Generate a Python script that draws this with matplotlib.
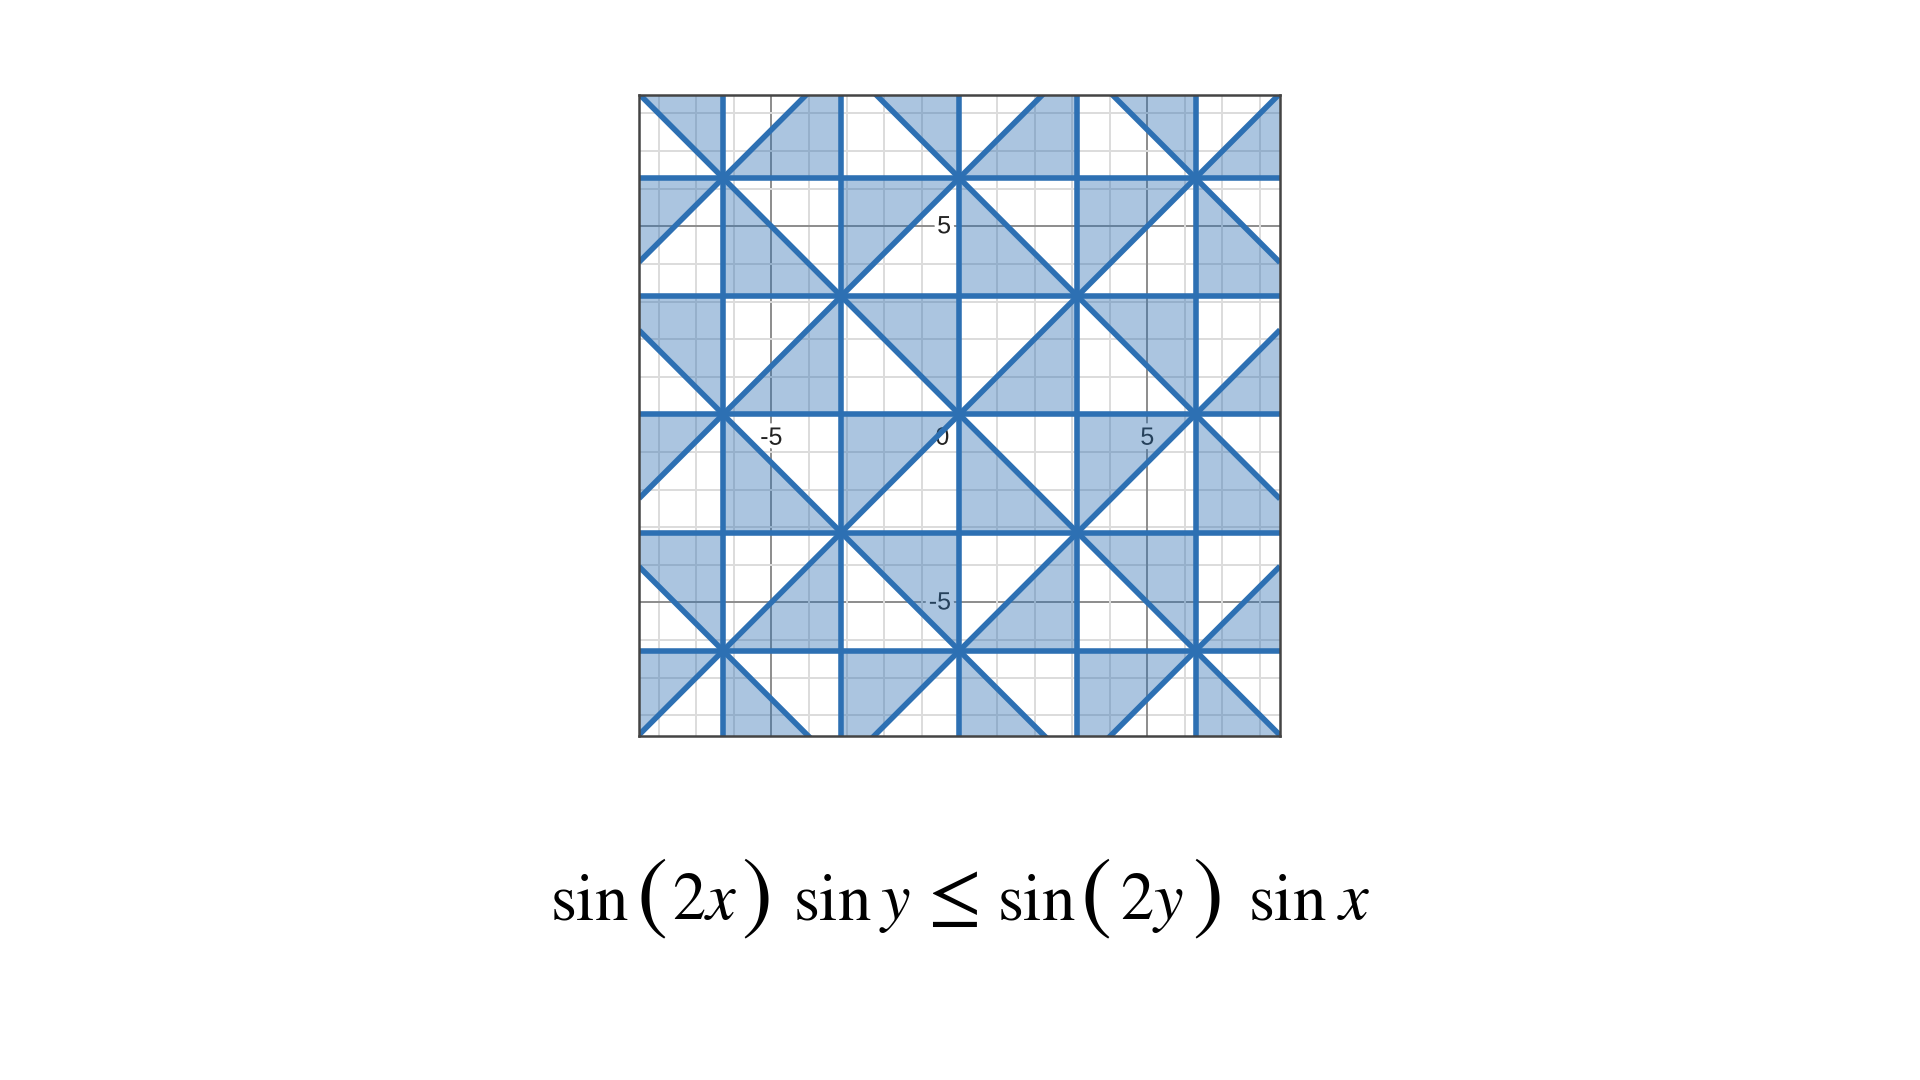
import numpy as np
import matplotlib
matplotlib.use("Agg")
import matplotlib.pyplot as plt
import matplotlib.patheffects as pe

# --------------------------------------------------------------
# data: inequality sin(2x) sin y <= sin(2y) sin x
# --------------------------------------------------------------
x_range = [-8.52, 8.53]
y_range = [-8.55, 8.49]
# boundaries: x = k*pi, y = k*pi, y = +-x + 2k*pi
axis_multiples = [-2, -1, 0, 1, 2]
diag_offsets = [-4, -2, 0, 2, 4]  # in units of pi
tick_values = [-5, 0, 5]
minor_step = 1

# equation pieces and their left edge (px) -- parens / relation drawn bigger
eq_pieces = [r"$\sin$", "(", r"$2x$", ")", r"$\sin$", r"$y$", r"$\leq$",
             r"$\sin$", "(", r"$2y$", ")", r"$\sin$", r"$x$"]
eq_left_px = [550, 636, 672, 741, 793, 879, 916, 997, 1080, 1120, 1192, 1248, 1337]

fill_color = "#2d70b3"
line_color = "#2d70b3"

plt.rcParams["mathtext.fontset"] = "stix"

fig = plt.figure(figsize=(19.2, 10.8), dpi=100)
ax = fig.add_axes([639 / 1920, 1 - 736 / 1080, 641 / 1920, 641 / 1080])
ax.set_xlim(*x_range)
ax.set_ylim(*y_range)

# grid: minor every unit, major every 5
for v in np.arange(-8, 9, minor_step):
    major = (v % 5 == 0)
    col = "#8c8c8c" if major else "#dcdcdc"
    ax.axvline(v, color=col, lw=1.4, zorder=0)
    ax.axhline(v, color=col, lw=1.4, zorder=0)

# tick labels (Desmos style, with white halo)
halo = [pe.withStroke(linewidth=6, foreground="white")]
lab_kw = dict(fontsize=18, family="Liberation Sans", color="#222222",
              path_effects=halo, zorder=1)
for v in tick_values:
    if v == 0:
        ax.text(-0.45, -0.62, "0", ha="center", va="center", **lab_kw)
    else:
        ax.text(v, -0.62, str(v), ha="center", va="center", **lab_kw)
        ax.text(-0.22, v, str(v), ha="right", va="center", **lab_kw)

# shaded region
gx = np.linspace(x_range[0], x_range[1], 1600)
gy = np.linspace(y_range[0], y_range[1], 1600)
X, Y = np.meshgrid(gx, gy)
F = np.sin(2 * X) * np.sin(Y) - np.sin(2 * Y) * np.sin(X)
ax.contourf(X, Y, F, levels=[-100, 0], colors=[fill_color], alpha=0.4,
            antialiased=True, zorder=2)

# boundary lines
lw_b = 4.0
for k in axis_multiples:
    ax.axvline(k * np.pi, color=line_color, lw=lw_b, zorder=3)
    ax.axhline(k * np.pi, color=line_color, lw=lw_b, zorder=3)
xx = np.array(x_range)
for c in diag_offsets:
    ax.plot(xx, xx + c * np.pi, color=line_color, lw=lw_b, zorder=3,
            solid_capstyle="butt")
    ax.plot(xx, -xx + c * np.pi, color=line_color, lw=lw_b, zorder=3,
            solid_capstyle="butt")

ax.set_xticks([])
ax.set_yticks([])
for s in ax.spines.values():
    s.set_color("#444444")
    s.set_linewidth(1.8)
    s.set_zorder(5)

# equation below the graph
for piece, left in zip(eq_pieces, eq_left_px):
    if piece in "()":
        fig.text(left / 1920, 1 - 922 / 1080, "$" + piece + "$",
                 ha="left", va="baseline", fontsize=67)
    elif piece == r"$\leq$":
        fig.text(left / 1920, 1 - 919 / 1080, piece,
                 ha="left", va="baseline", fontsize=56)
    else:
        fig.text(left / 1920, 1 - 919 / 1080, piece,
                 ha="left", va="baseline", fontsize=48)

fig.savefig("out.png", dpi=100)
